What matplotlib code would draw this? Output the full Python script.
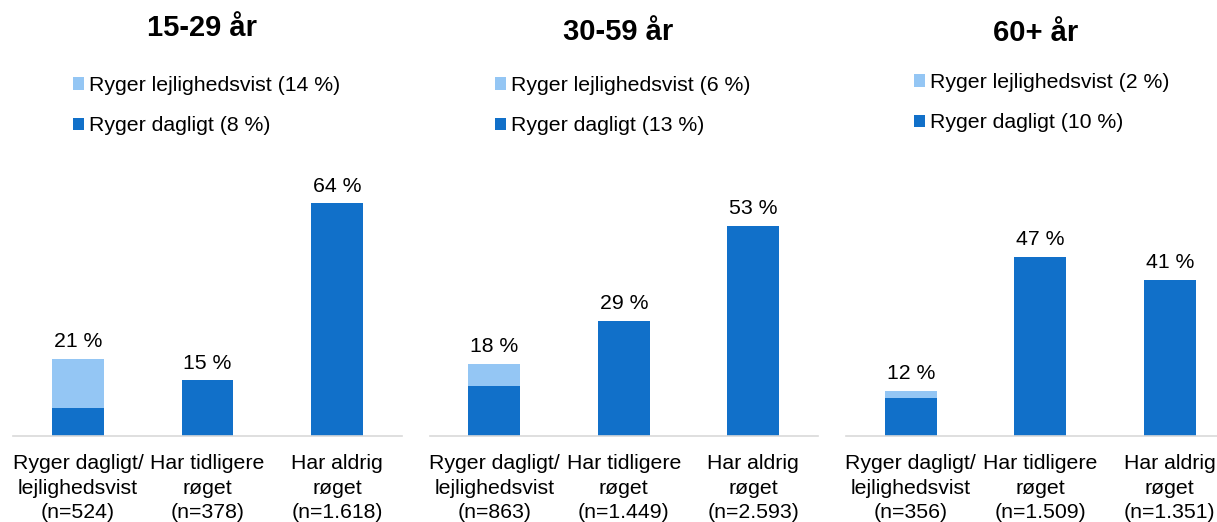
import matplotlib
matplotlib.use("Agg")
import matplotlib.pyplot as plt
from matplotlib.patches import Patch

plt.rcParams['font.family'] = ['Liberation Sans', 'DejaVu Sans']

titles = ["15-29 år", "30-59 år", "60+ år"]
categories = [
    ["Ryger dagligt/\nlejlighedsvist\n(n=524)", "Har tidligere\nrøget\n(n=378)", "Har aldrig\nrøget\n(n=1.618)"],
    ["Ryger dagligt/\nlejlighedsvist\n(n=863)", "Har tidligere\nrøget\n(n=1.449)", "Har aldrig\nrøget\n(n=2.593)"],
    ["Ryger dagligt/\nlejlighedsvist\n(n=356)", "Har tidligere\nrøget\n(n=1.509)", "Har aldrig\nrøget\n(n=1.351)"],
]
# bottom segment (daily smokers for first bar, whole value for others)
daily = [
    [7.6, 15.2, 64.0],
    [12.6, 29.0, 53.0],
    [9.9, 47.0, 41.0],
]
# occasional smokers stacked on first bar
occasional = [
    [13.6, 0, 0],
    [5.5, 0, 0],
    [1.8, 0, 0],
]
bar_labels = [
    ["21 %", "15 %", "64 %"],
    ["18 %", "29 %", "53 %"],
    ["12 %", "47 %", "41 %"],
]
legend_occ = ["Ryger lejlighedsvist (14 %)", "Ryger lejlighedsvist (6 %)", "Ryger lejlighedsvist (2 %)"]
legend_daily = ["Ryger dagligt (8 %)", "Ryger dagligt (13 %)", "Ryger dagligt (10 %)"]

DARK = "#1170C9"
LIGHT = "#94C6F4"

W, H = 1217, 522
fig = plt.figure(figsize=(W / 100, H / 100), dpi=100)

lefts_px = [13.25, 429.5, 846.0]
width_px = 388.5
bottom_px = 435.5
top_px = 181.0
ymaxs = [70.2, 64.4, 67.0]
title_x = [202, 618, 1036]
title_y = [28.5, 32.5, 33]
leg_x = [73, 495, 914]
leg_y = [76, 76, 73]
FS = 15.3

for i in range(3):
    ax = fig.add_axes([lefts_px[i] / W, 1 - bottom_px / H, width_px / W, (bottom_px - top_px) / H])
    x = list(range(3))
    ax.bar(x, daily[i], width=0.4, color=DARK, zorder=2)
    ax.bar(x, occasional[i], width=0.4, bottom=daily[i], color=LIGHT, zorder=2)
    for j in range(3):
        tot = daily[i][j] + occasional[i][j]
        ax.annotate(bar_labels[i][j], (j, tot), xytext=(0, 5.5), textcoords="offset points",
                    ha="center", va="bottom", fontsize=FS, color="#000000")
    ax.set_xlim(-0.5, 2.5)
    ax.set_ylim(0, ymaxs[i])
    ax.set_xticks(x)
    ax.set_xticklabels(categories[i], fontsize=FS, linespacing=1.37)
    ax.tick_params(axis='x', length=0, pad=13.5)
    ax.set_yticks([])
    for s in ["left", "right", "top"]:
        ax.spines[s].set_visible(False)
    ax.spines["bottom"].set_color("#D9D9D9")
    ax.spines["bottom"].set_linewidth(1.2)
    ax.set_facecolor("none")

    fig.text(title_x[i] / W, 1 - title_y[i] / H, titles[i], ha="center", va="center",
             fontsize=21, fontweight="bold")

    handles = [Patch(facecolor=LIGHT, edgecolor="none"), Patch(facecolor=DARK, edgecolor="none")]
    fig.legend(handles, [legend_occ[i], legend_daily[i]], loc="upper left",
               bbox_to_anchor=(leg_x[i] / W, 1 - leg_y[i] / H), bbox_transform=fig.transFigure,
               frameon=False, fontsize=FS, handlelength=0.5, handleheight=0.5,
               handletextpad=0.25, labelspacing=1.0, borderpad=0, borderaxespad=0)

fig.savefig("out.png", dpi=100, facecolor="white")
